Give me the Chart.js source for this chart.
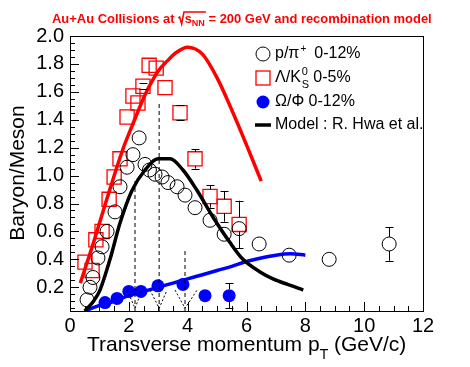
<!DOCTYPE html>
<html>
<head>
<meta charset="utf-8">
<script src="https://cdn.jsdelivr.net/npm/chart.js@4.4.1/dist/chart.umd.min.js"></script>
<style>
  html, body { margin: 0; padding: 0; background: #fff; }
  #wrap { width: 470px; height: 367px; }
</style>
</head>
<body>
<div id="wrap"><canvas id="ratioChart" width="470" height="367"></canvas></div>
<script>
// p/pi+ 0-12%
const pionPt    = [0.58, 0.68, 0.78, 0.95, 1.09, 1.26, 1.53, 1.70, 1.94, 2.14, 2.35, 2.55, 2.70, 2.89, 3.13, 3.33, 3.64, 3.91, 4.25, 4.76, 5.24, 5.75, 6.43, 7.45, 8.81, 10.85];
const pionRatio = [0.11, 0.20, 0.27, 0.41, 0.49, 0.60, 0.74, 0.92, 1.06, 1.15, 1.27, 1.08, 1.04, 1.01, 0.99, 0.95, 0.92, 0.86, 0.77, 0.68, 0.58, 0.62, 0.51, 0.43, 0.40, 0.51];
const pionErr   = [0, 0, 0, 0, 0, 0, 0, 0, 0, 0, 0, 0, 0, 0, 0, 0, 0, 0, 0, 0, 0, 0, 0, 0, 0, 0.12];

// Lambda/K0s 0-5%
const lambdaPt    = [0.51, 0.75, 0.88, 1.09, 1.33, 1.50, 1.70, 1.94, 2.14, 2.31, 2.48, 2.69, 2.93, 3.23, 3.74, 4.25, 4.76, 5.24, 5.75];
const lambdaRatio = [0.38, 0.32, 0.54, 0.60, 0.83, 0.99, 1.12, 1.42, 1.57, 1.52, 1.64, 1.79, 1.77, 1.63, 1.45, 1.12, 0.85, 0.78, 0.65];
const lambdaErr   = [0, 0, 0, 0, 0, 0, 0, 0, 0, 0, 0.02, 0, 0, 0, 0.055, 0.07, 0.08, 0.11, 0.17];

// Omega/Phi 0-12%
const omegaPt    = [1.19, 1.60, 2.00, 2.41, 2.99, 3.84, 4.59, 5.41];
const omegaRatio = [0.09, 0.12, 0.17, 0.17, 0.21, 0.22, 0.14, 0.14];
const omegaErr   = [0, 0, 0, 0, 0, 0, 0, 0.09];

// Model : R. Hwa et al.
const modelPionPt  = [0.5, 0.8, 1.02, 1.36, 1.70, 2.1, 2.55, 3.0, 3.4, 3.84, 4.3, 4.87, 5.44, 5.88, 6.46, 6.9, 7.4, 7.93];
const modelPion    = [0.03, 0.10, 0.18, 0.40, 0.66, 0.89, 1.04, 1.12, 1.12, 1.04, 0.90, 0.70, 0.52, 0.40, 0.31, 0.26, 0.22, 0.18];
const modelLambdaPt = [0.35, 0.8, 1.25, 1.8, 2.1, 2.6, 3.0, 3.3, 3.6, 4.0, 4.5, 5.0, 5.5, 6.0, 6.5];
const modelLambda   = [0.23, 0.52, 0.83, 1.19, 1.35, 1.60, 1.75, 1.82, 1.88, 1.92, 1.87, 1.70, 1.47, 1.22, 0.96];
const modelOmegaPt = [0.5, 1.0, 1.5, 2.0, 2.5, 3.0, 3.5, 4.0, 4.5, 5.0, 5.5, 6.0, 6.5, 7.0, 7.5, 8.0];
const modelOmega   = [0.03, 0.07, 0.10, 0.14, 0.17, 0.20, 0.23, 0.26, 0.29, 0.32, 0.35, 0.385, 0.41, 0.43, 0.44, 0.43];

// dashed guide lines and dotted V marks
const dashPt  = [2.21, 3.03, 3.91];
const dashTop = [0.96, 1.53, 0.48];
const vLeft   = [1.94, 2.72, 3.57];
const vRight  = [2.45, 3.30, 4.32];
const vHigh = 0.18;
const vLow  = 0.05;

// axes
const xTicks = [0, 2, 4, 6, 8, 10, 12];
const yTicks = [0.2, 0.4, 0.6, 0.8, 1.0, 1.2, 1.4, 1.6, 1.8, 2.0];

const FONT = "'Liberation Sans', Arial, sans-serif";

function pts(xs, ys) {
    return xs.map((x, i) => ({ x: x, y: ys[i] }));
}

const datasets = [];

dashPt.forEach((x, i) => {
    datasets.push({
        data: [{ x: x, y: 0.03 }, { x: x, y: dashTop[i] }],
        showLine: true, borderColor: '#000', borderWidth: 1, borderDash: [4, 3],
        pointRadius: 0
    });
    datasets.push({
        data: [{ x: vLeft[i], y: vHigh }, { x: x, y: vLow }, { x: vRight[i], y: vHigh }],
        showLine: true, borderColor: '#000', borderWidth: 1, borderDash: [2, 2],
        pointRadius: 0
    });
});

datasets.push({
    label: 'modelLambda', data: pts(modelLambdaPt, modelLambda),
    showLine: true, borderColor: '#ff0000', borderWidth: 3.5, pointRadius: 0,
    cubicInterpolationMode: 'monotone'
});
datasets.push({
    label: 'modelPion', data: pts(modelPionPt, modelPion),
    showLine: true, borderColor: '#000', borderWidth: 3.5, pointRadius: 0,
    cubicInterpolationMode: 'monotone'
});
datasets.push({
    label: 'modelOmega', data: pts(modelOmegaPt, modelOmega),
    showLine: true, borderColor: '#0000ff', borderWidth: 3.5, pointRadius: 0,
    cubicInterpolationMode: 'monotone'
});
datasets.push({
    label: 'p/pi', data: pts(pionPt, pionRatio), errors: pionErr,
    pointStyle: 'circle', pointRadius: 7, pointBorderWidth: 1,
    pointBorderColor: '#000', pointBackgroundColor: 'rgba(0,0,0,0)', showLine: false
});
datasets.push({
    label: 'Lambda/K0s', data: pts(lambdaPt, lambdaRatio), errors: lambdaErr,
    pointStyle: 'rect', pointRadius: 10, pointBorderWidth: 1.3,
    pointBorderColor: '#ff0000', pointBackgroundColor: 'rgba(0,0,0,0)', showLine: false
});
datasets.push({
    label: 'Omega/Phi', data: pts(omegaPt, omegaRatio), errors: omegaErr,
    pointStyle: 'circle', pointRadius: 6.5, pointBorderWidth: 0,
    pointBorderColor: '#0000ff', pointBackgroundColor: '#0000ff', showLine: false
});

// error bars, drawn from the marker edge outwards like ROOT does
const errorBars = {
    id: 'errorBars',
    afterDatasetsDraw(chart) {
        const ctx = chart.ctx;
        const xs = chart.scales.x, ys = chart.scales.y, area = chart.chartArea;
        ctx.save();
        ctx.beginPath();
        ctx.rect(area.left, area.top, area.right - area.left, area.bottom - area.top);
        ctx.clip();
        ctx.strokeStyle = '#000';
        ctx.lineWidth = 1;
        chart.data.datasets.forEach(ds => {
            if (!ds.errors) return;
            const r = ds.pointStyle === 'rect' ? ds.pointRadius * Math.SQRT1_2 : ds.pointRadius;
            ds.data.forEach((p, i) => {
                const e = ds.errors[i];
                if (!e) return;
                const px = Math.round(xs.getPixelForValue(p.x)) + 0.5;
                const py = ys.getPixelForValue(p.y);
                const top = ys.getPixelForValue(p.y + e);
                const bot = ys.getPixelForValue(p.y - e);
                ctx.beginPath();
                if (top < py - r) { ctx.moveTo(px, py - r); ctx.lineTo(px, top); }
                if (bot > py + r) { ctx.moveTo(px, py + r); ctx.lineTo(px, bot); }
                ctx.moveTo(px - 4, Math.round(top) + 0.5); ctx.lineTo(px + 4, Math.round(top) + 0.5);
                ctx.moveTo(px - 4, Math.round(bot) + 0.5); ctx.lineTo(px + 4, Math.round(bot) + 0.5);
                ctx.stroke();
            });
        });
        ctx.restore();
    }
};

// frame, inward ticks, titles and legend
const decorations = {
    id: 'decorations',
    afterDraw(chart) {
        const ctx = chart.ctx;
        const xs = chart.scales.x, ys = chart.scales.y, a = chart.chartArea;
        ctx.save();
        ctx.strokeStyle = '#000';
        ctx.lineWidth = 1;
        ctx.strokeRect(Math.round(a.left) + 0.5, Math.round(a.top) + 0.5,
            Math.round(a.right - a.left), Math.round(a.bottom - a.top));

        ctx.beginPath();
        for (let k = 1; k <= 40; k++) {
            const v = k * 0.05;
            if (v < ys.min || v > ys.max + 1e-9) continue;
            const y = Math.round(ys.getPixelForValue(v)) + 0.5;
            const len = (k % 4 === 0) ? 9 : 5;
            ctx.moveTo(a.left, y); ctx.lineTo(a.left + len, y);
        }
        for (let k = 1; k < 24; k++) {
            const v = k * 0.5;
            const x = Math.round(xs.getPixelForValue(v)) + 0.5;
            const len = (k % 4 === 0) ? 9 : 5;
            ctx.moveTo(x, a.bottom); ctx.lineTo(x, a.bottom - len);
        }
        ctx.stroke();

        // title
        ctx.fillStyle = '#ff0000';
        ctx.strokeStyle = '#ff0000';
        let fs = 14;
        const measure = () => {
            ctx.font = 'bold ' + fs + 'px ' + FONT;
            const w1 = ctx.measureText('Au+Au Collisions at ').width;
            const ws = ctx.measureText('s').width;
            const w3 = ctx.measureText(' = 200 GeV and recombination model').width;
            ctx.font = 'bold ' + (fs * 0.7) + 'px ' + FONT;
            const wn = ctx.measureText('NN').width;
            return { w1, ws, w3, wn, total: w1 + fs * 0.5 + ws + wn + w3 };
        };
        let m = measure();
        fs = fs * 380 / m.total;
        m = measure();
        let tx = 52;
        const tb = 23;
        ctx.textBaseline = 'alphabetic';
        ctx.textAlign = 'left';
        ctx.font = 'bold ' + fs + 'px ' + FONT;
        ctx.fillText('Au+Au Collisions at ', tx, tb);
        tx += m.w1;
        ctx.lineWidth = 1.5;
        ctx.beginPath();
        ctx.moveTo(tx, tb - 5);
        ctx.lineTo(tx + 1.5, tb - 6);
        ctx.lineTo(tx + 3.5, tb + 1);
        ctx.lineTo(tx + fs * 0.45, tb - fs * 0.85);
        ctx.lineTo(tx + fs * 0.5 + m.ws + m.wn + 1, tb - fs * 0.85);
        ctx.stroke();
        tx += fs * 0.5;
        ctx.fillText('s', tx, tb);
        tx += m.ws;
        ctx.font = 'bold ' + (fs * 0.7) + 'px ' + FONT;
        ctx.fillText('NN', tx, tb + 3);
        tx += m.wn;
        ctx.font = 'bold ' + fs + 'px ' + FONT;
        ctx.fillText(' = 200 GeV and recombination model', tx, tb);

        // axis titles
        ctx.fillStyle = '#000';
        ctx.font = '21px ' + FONT;
        ctx.save();
        ctx.translate(24, 173);
        ctx.rotate(-Math.PI / 2);
        ctx.textAlign = 'center';
        ctx.fillText('Baryon/Meson', 0, 0);
        ctx.restore();

        ctx.textAlign = 'left';
        let ax = 87;
        const ab = 351;
        ctx.fillText('Transverse momentum p', ax, ab);
        ax += ctx.measureText('Transverse momentum p').width;
        ctx.font = '14px ' + FONT;
        ctx.fillText('T', ax, ab + 8);
        ax += ctx.measureText('T').width;
        ctx.font = '21px ' + FONT;
        ctx.fillText(' (GeV/c)', ax, ab);

        // legend
        const lx = 263;
        const textX = 275;
        const rows = [54, 78, 102, 125];
        ctx.lineWidth = 1;
        ctx.strokeStyle = '#000';
        ctx.beginPath();
        ctx.arc(lx, rows[0], 7, 0, Math.PI * 2);
        ctx.stroke();
        ctx.strokeStyle = '#ff0000';
        ctx.lineWidth = 1.3;
        ctx.strokeRect(lx - 7, rows[1] - 7, 14, 14);
        ctx.fillStyle = '#0000ff';
        ctx.beginPath();
        ctx.arc(lx, rows[2], 6.5, 0, Math.PI * 2);
        ctx.fill();
        ctx.strokeStyle = '#000';
        ctx.lineWidth = 3.5;
        ctx.beginPath();
        ctx.moveTo(lx - 8, rows[3]); ctx.lineTo(lx + 8, rows[3]);
        ctx.stroke();

        ctx.fillStyle = '#000';
        ctx.textBaseline = 'middle';
        ctx.font = '16px ' + FONT;
        let x = textX;
        ctx.fillText('p/π', x, rows[0]);
        x += ctx.measureText('p/π').width;
        ctx.font = '10px ' + FONT;
        ctx.fillText('+', x + 1, rows[0] - 5);
        ctx.font = '16px ' + FONT;
        ctx.fillText('  0-12%', x + 6, rows[0]);

        x = textX;
        ctx.fillText('Λ/K', x, rows[1]);
        x += ctx.measureText('Λ/K').width;
        ctx.font = '11px ' + FONT;
        ctx.fillText('0', x + 1, rows[1] - 6);
        ctx.fillText('S', x + 1, rows[1] + 7);
        ctx.font = '16px ' + FONT;
        ctx.fillText(' 0-5%', x + 8, rows[1]);

        ctx.fillText('Ω/Φ 0-12%', textX, rows[2]);
        ctx.fillText('Model : R. Hwa et al.', textX, rows[3]);
        ctx.restore();
    }
};

new Chart(document.getElementById('ratioChart').getContext('2d'), {
    type: 'scatter',
    data: { datasets: datasets },
    options: {
        responsive: false,
        animation: false,
        events: [],
        layout: { padding: { left: 0, right: 47, top: 36, bottom: 0 } },
        plugins: {
            legend: { display: false },
            tooltip: { enabled: false }
        },
        scales: {
            x: {
                type: 'linear',
                min: 0,
                max: 12,
                afterFit(scale) { scale.height = 56; },
                afterBuildTicks(scale) { scale.ticks = xTicks.map(v => ({ value: v })); },
                grid: { display: false, drawTicks: false },
                border: { display: false },
                ticks: {
                    color: '#000',
                    padding: 3,
                    maxRotation: 0,
                    font: { family: FONT, size: 20 },
                    callback: v => String(v)
                }
            },
            y: {
                type: 'linear',
                min: 0.03,
                max: 2.0,
                afterFit(scale) { scale.width = 70; },
                afterBuildTicks(scale) { scale.ticks = yTicks.map(v => ({ value: v })); },
                grid: { display: false, drawTicks: false },
                border: { display: false },
                ticks: {
                    color: '#000',
                    padding: 6,
                    font: { family: FONT, size: 20 },
                    callback: v => v.toFixed(1)
                }
            }
        }
    },
    plugins: [errorBars, decorations]
});
</script>
</body>
</html>
